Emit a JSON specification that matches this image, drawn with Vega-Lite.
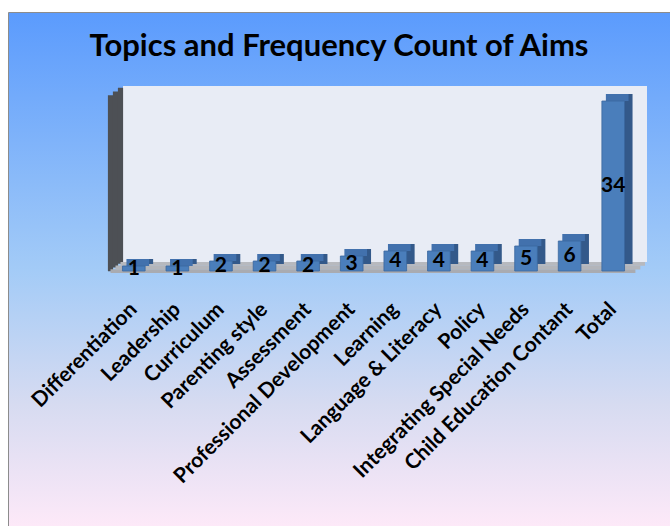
{
  "$schema": "https://vega.github.io/schema/vega-lite/v6.json",
  "width": 662,
  "height": 514,
  "padding": {"left": 8, "top": 12, "right": 0, "bottom": 0},
  "autosize": {"type": "none"},
  "background": "white",
  "config": {
    "font": "Lato",
    "view": {
      "stroke": "#8c8c8c",
      "strokeWidth": 1,
      "fill": {
        "gradient": "linear",
        "x1": 0, "y1": 0, "x2": 0, "y2": 1,
        "stops": [
          {"offset": 0, "color": "#5b9bfd"},
          {"offset": 0.5, "color": "#a3cbf7"},
          {"offset": 0.76, "color": "#d6dbf1"},
          {"offset": 1, "color": "#fde9f8"}
        ]
      }
    }
  },
  "title": {
    "text": "Topics and Frequency Count of Aims",
    "font": "Lato",
    "fontSize": 31,
    "fontWeight": "bold",
    "color": "black",
    "anchor": "middle",
    "frame": "group",
    "baseline": "alphabetic",
    "offset": -75
  },
  "data": {
    "values": [
      {"topic": "Differentiation", "count": 1},
      {"topic": "Leadership", "count": 1},
      {"topic": "Curriculum", "count": 2},
      {"topic": "Parenting style", "count": 2},
      {"topic": "Assessment", "count": 2},
      {"topic": "Professional Development", "count": 3},
      {"topic": "Learning", "count": 4},
      {"topic": "Language & Literacy", "count": 4},
      {"topic": "Policy", "count": 4},
      {"topic": "Integrating Special Needs", "count": 5},
      {"topic": "Child Education Contant", "count": 6},
      {"topic": "Total", "count": 34}
    ]
  },
  "layer": [
    {
      "encoding": {
        "x": {
          "field": "topic",
          "type": "nominal",
          "sort": null,
          "scale": {
            "domain": ["Differentiation", "Leadership", "Curriculum", "Parenting style", "Assessment", "Professional Development", "Learning", "Language & Literacy", "Policy", "Integrating Special Needs", "Child Education Contant", "Total"],
            "range": [104, 627],
            "paddingInner": 0,
            "paddingOuter": 0
          },
          "axis": {
            "orient": "bottom",
            "offset": -255,
            "labelAngle": -45,
            "labelAlign": "right",
            "labelBaseline": "middle",
            "labelFont": "Lato",
            "labelFontWeight": "bold",
            "labelFontSize": 21,
            "labelColor": "black",
            "labelPadding": 35,
            "labelLimit": 400,
            "labelOverlap": false,
            "ticks": false,
            "tickSize": 0,
            "domain": false,
            "grid": false,
            "title": null
          }
        }
      },
      "layer": [
        {
          "data": {"values": [{"part": "back wall"}]},
          "mark": {"type": "rect", "fill": "#e8ecf5", "xOffset": 11, "x2Offset": 12, "yOffset": -10, "y2Offset": -9},
          "encoding": {
            "x": {"datum": "Differentiation", "type": "nominal", "bandPosition": 0},
            "x2": {"datum": "Total", "bandPosition": 1},
            "y": {"datum": 35, "type": "quantitative", "scale": {"domain": [0, 35], "range": [259, 84], "nice": false, "zero": false}, "axis": null},
            "y2": {"datum": 0}
          }
        },
        {
          "data": {"values": [{"part": "left wall"}]},
          "mark": {"type": "rule", "stroke": "#4d5055", "strokeWidth": 5.2, "strokeCap": "butt", "xOffset": -1.5, "yOffset": 0.2, "y2Offset": -0.8},
          "encoding": {
            "x": {"datum": "Differentiation", "type": "nominal", "bandPosition": 0},
            "y": {"datum": 0, "type": "quantitative"},
            "y2": {"datum": 35}
          }
        },
        {
          "data": {"values": [{"part": "left wall"}]},
          "mark": {"type": "rule", "stroke": "#4d5055", "strokeWidth": 5.2, "strokeCap": "butt", "xOffset": 3.5, "yOffset": -3.5, "y2Offset": -4.5},
          "encoding": {
            "x": {"datum": "Differentiation", "type": "nominal", "bandPosition": 0},
            "y": {"datum": 0, "type": "quantitative"},
            "y2": {"datum": 35}
          }
        },
        {
          "data": {"values": [{"part": "left wall"}]},
          "mark": {"type": "rule", "stroke": "#4d5055", "strokeWidth": 5.2, "strokeCap": "butt", "xOffset": 8.5, "yOffset": -7.2, "y2Offset": -8.2},
          "encoding": {
            "x": {"datum": "Differentiation", "type": "nominal", "bandPosition": 0},
            "y": {"datum": 0, "type": "quantitative"},
            "y2": {"datum": 35}
          }
        },
        {
          "data": {"values": [{"part": "floor"}]},
          "mark": {"type": "rule", "stroke": "#a9abb1", "strokeWidth": 3.8, "strokeCap": "butt", "xOffset": -1.5, "x2Offset": 0.4, "yOffset": 0.2},
          "encoding": {
            "x": {"datum": "Differentiation", "type": "nominal", "bandPosition": 0},
            "x2": {"datum": "Total", "bandPosition": 1},
            "y": {"datum": 0, "type": "quantitative"}
          }
        },
        {
          "data": {"values": [{"part": "floor"}]},
          "mark": {"type": "rule", "stroke": "#b3b5ba", "strokeWidth": 3.8, "strokeCap": "butt", "xOffset": 3.5, "x2Offset": 5.3, "yOffset": -3.5},
          "encoding": {
            "x": {"datum": "Differentiation", "type": "nominal", "bandPosition": 0},
            "x2": {"datum": "Total", "bandPosition": 1},
            "y": {"datum": 0, "type": "quantitative"}
          }
        },
        {
          "data": {"values": [{"part": "floor"}]},
          "mark": {"type": "rule", "stroke": "#b7b9be", "strokeWidth": 3.8, "strokeCap": "butt", "xOffset": 8.5, "x2Offset": 10, "yOffset": -7.2},
          "encoding": {
            "x": {"datum": "Differentiation", "type": "nominal", "bandPosition": 0},
            "x2": {"datum": "Total", "bandPosition": 1},
            "y": {"datum": 0, "type": "quantitative"}
          }
        },
        {
          "mark": {"type": "bar", "width": {"band": 0.52}, "fill": "#33598a", "xOffset": 8, "x2Offset": 8, "yOffset": -7, "y2Offset": -7},
          "encoding": {
            "y": {"field": "count", "type": "quantitative", "stack": null},
            "y2": {"datum": 0}
          }
        },
        {
          "mark": {"type": "bar", "width": {"band": 0.52}, "fill": "#4271ad", "xOffset": 4, "x2Offset": 4, "yOffset": -7, "y2Offset": 0},
          "encoding": {
            "y": {"field": "count", "type": "quantitative", "stack": null},
            "y2": {"field": "count"}
          }
        },
        {
          "mark": {"type": "bar", "width": {"band": 0.52}, "fill": "#4a7ebb", "stroke": "#3a679e", "strokeWidth": 0.8},
          "encoding": {
            "y": {"field": "count", "type": "quantitative", "stack": null},
            "y2": {"datum": 0}
          }
        }
      ]
    },
    {
      "mark": {"type": "text", "font": "Lato", "fontWeight": "bold", "fontSize": 21, "color": "black", "align": "center", "baseline": "middle"},
      "encoding": {
        "x": {"field": "topic", "type": "nominal", "sort": null},
        "y": {"field": "count", "type": "quantitative", "scale": {"domain": [0, 70], "range": [259, 84], "nice": false, "zero": false}, "axis": null},
        "text": {"field": "count", "type": "quantitative"}
      }
    }
  ],
  "resolve": {"scale": {"y": "independent"}}
}
